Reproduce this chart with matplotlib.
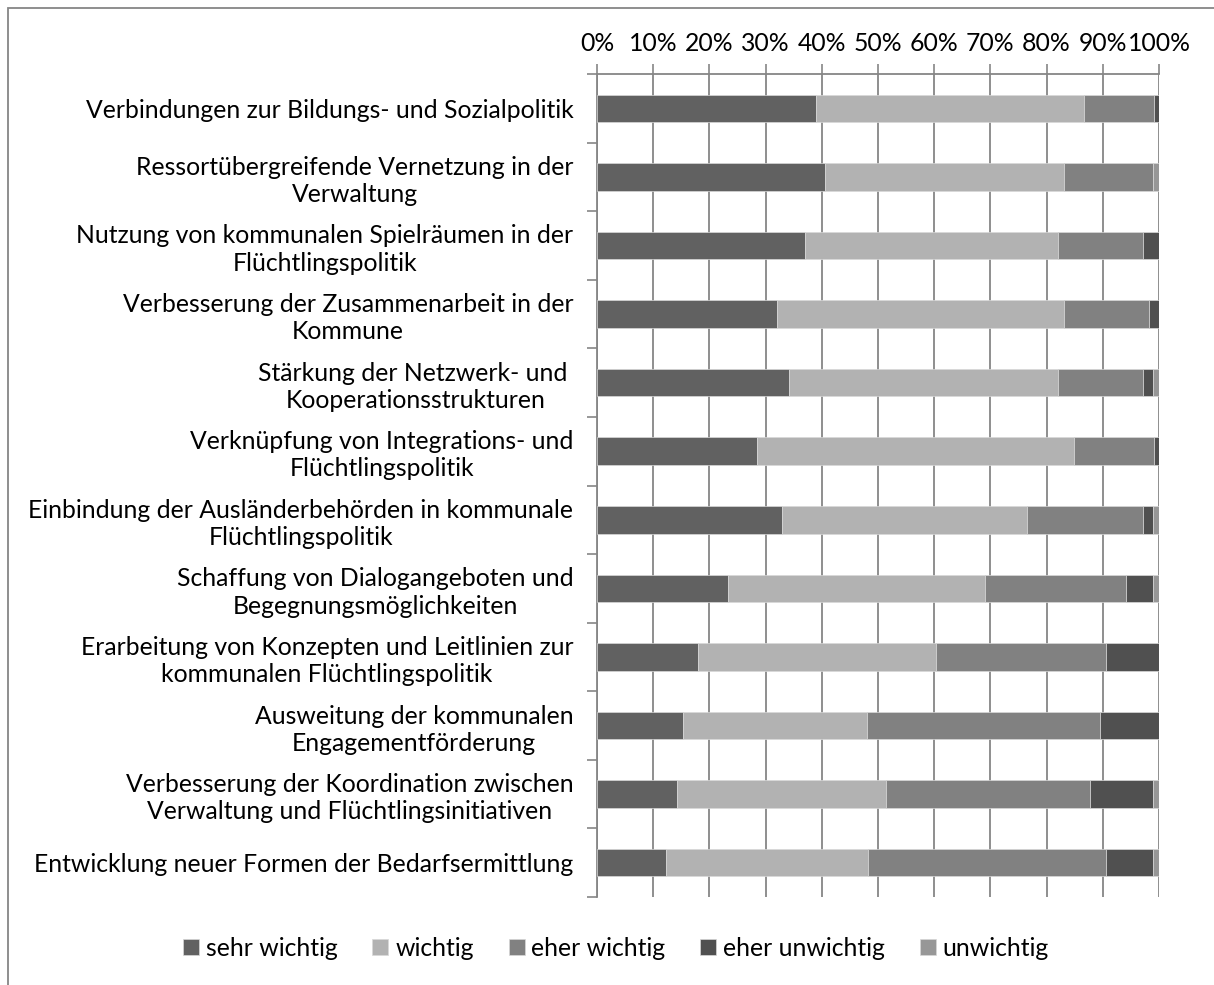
import numpy as np
import matplotlib.pyplot as plt
from matplotlib.patches import Rectangle

# Kategorien (von oben nach unten)
kategorien = [
    "Verbindungen zur Bildungs- und Sozialpolitik",
    "Ressortübergreifende Vernetzung in der\nVerwaltung",
    "Nutzung von kommunalen Spielräumen in der\nFlüchtlingspolitik",
    "Verbesserung der Zusammenarbeit in der\nKommune",
    "Stärkung der Netzwerk- und \nKooperationsstrukturen",
    "Verknüpfung von Integrations- und\nFlüchtlingspolitik",
    "Einbindung der Ausländerbehörden in kommunale\nFlüchtlingspolitik",
    "Schaffung von Dialogangeboten und\nBegegnungsmöglichkeiten",
    "Erarbeitung von Konzepten und Leitlinien zur\nkommunalen Flüchtlingspolitik",
    "Ausweitung der kommunalen\nEngagementförderung",
    "Verbesserung der Koordination zwischen\nVerwaltung und Flüchtlingsinitiativen",
    "Entwicklung neuer Formen der Bedarfsermittlung",
]

# Anteile in Prozent
sehr_wichtig   = [39.0, 40.5, 37.0, 32.0, 34.2, 28.5, 33.0, 23.3, 17.9, 15.3, 14.2, 12.2]
wichtig        = [47.7, 42.6, 45.0, 51.1, 47.8, 56.3, 43.5, 45.7, 42.5, 32.8, 37.2, 36.0]
eher_wichtig   = [12.4, 15.9, 15.2, 15.1, 15.2, 14.3, 20.7, 25.2, 30.2, 41.4, 36.4, 42.4]
eher_unwichtig = [0.9, 0.0, 2.8, 1.8, 1.8, 0.9, 1.8, 4.8, 9.4, 10.5, 11.2, 8.4]
unwichtig      = [0.0, 1.0, 0.0, 0.0, 1.0, 0.0, 1.0, 1.0, 0.0, 0.0, 1.0, 1.0]

serien = ["sehr wichtig", "wichtig", "eher wichtig", "eher unwichtig", "unwichtig"]
farben = ["#616161", "#b2b2b2", "#818181", "#505050", "#979797"]

plt.rcParams['font.family'] = ['Lato', 'DejaVu Sans']
fs = 17.8

W, H = 1214, 985
fig = plt.figure(figsize=(W / 100, H / 100), dpi=100)
ax = fig.add_axes([597 / W, 1 - 897 / H, (1159 - 597) / W, (897 - 74) / H])

y = np.arange(len(kategorien))
werte = [sehr_wichtig, wichtig, eher_wichtig, eher_unwichtig, unwichtig]
links = np.zeros(len(kategorien))
for name, w, c in zip(serien, werte, farben):
    w = np.array(w)
    ax.barh(y, w, left=links, height=0.40, color=c, label=name,
            edgecolor="#d8d8d8", linewidth=0.5, zorder=3)
    links += w

ax.set_xlim(0, 100)
ax.set_ylim(len(kategorien) - 0.5, -0.5)

# x-Achse oben
ax.xaxis.tick_top()
ax.set_xticks(np.arange(0, 101, 10))
ax.set_xticklabels([f"{v}%" for v in range(0, 101, 10)], fontsize=fs)
ax.tick_params(axis="x", direction="out", length=7, width=1.2, color="#868686", pad=7)
ax.grid(axis="x", color="#868686", linewidth=1.3, zorder=0)

# y-Achse: Ticks an Kategoriegrenzen
ax.set_yticks(y)
ax.set_yticklabels(kategorien, fontsize=fs, ha="right", multialignment="center",
                   linespacing=1.22)
ax.tick_params(axis="y", length=0, pad=17)
ax.set_yticks(np.arange(-0.5, len(kategorien)), minor=True)
ax.tick_params(axis="y", which="minor", length=7, width=1.2, color="#868686")

for s in ["right", "bottom"]:
    ax.spines[s].set_visible(False)
for s in ["left", "top"]:
    ax.spines[s].set_color("#868686")
    ax.spines[s].set_linewidth(1.3)

# Legende
fig.legend(loc="center", bbox_to_anchor=(616 / W, 1 - 948 / H), ncol=5,
           frameon=False, fontsize=fs, handlelength=0.65, handleheight=0.65,
           handletextpad=0.28, columnspacing=1.4)

# Rahmen des Diagramms
fig.patches.append(Rectangle((8 / W, -0.1), 1.2, 1 - 8 / H + 0.1,
                             transform=fig.transFigure, fill=False,
                             edgecolor="#868686", linewidth=1.3))

fig.savefig("out.png", dpi=100)
